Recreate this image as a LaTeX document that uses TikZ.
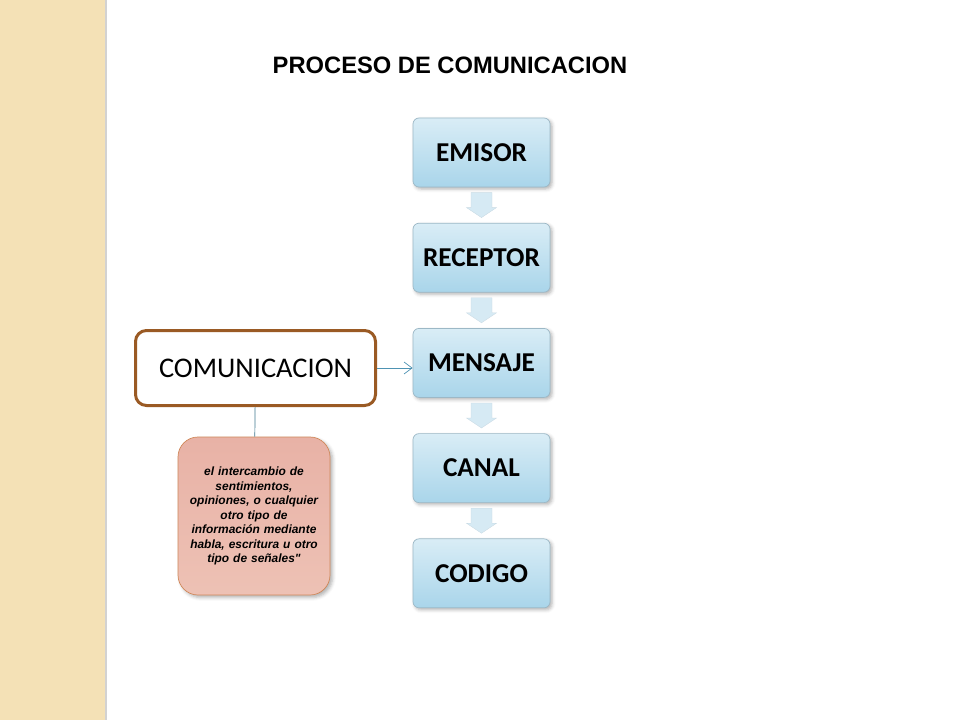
\documentclass[tikz,border=0pt]{standalone}
\usepackage{fontspec}
\setmainfont{Carlito}
\newfontfamily\arialfont{Liberation Sans}
\usetikzlibrary{positioning,calc,shadows.blur,arrows.meta}
\definecolor{sidebeige}{HTML}{F4E1B6}
\definecolor{boxblue}{HTML}{C9E5F2}
\definecolor{boxbluedark}{HTML}{A9D5EA}
\definecolor{boxline}{HTML}{9CB8C6}
\definecolor{arrowblue}{HTML}{D6EAF4}
\definecolor{termbrown}{HTML}{9A5A24}
\definecolor{notepink}{HTML}{E8B2A6}
\definecolor{notepinklight}{HTML}{F0C8BB}
\definecolor{noteline}{HTML}{D0885A}
\definecolor{linkblue}{HTML}{4E93B3}
\tikzset{
    step box/.style={
        draw=boxline,thin,rounded corners=1.2mm,
        top color=boxblue!70,bottom color=boxbluedark,
        minimum width=27.4mm,minimum height=13.8mm,
        blur shadow={shadow xshift=.4mm,shadow yshift=-.4mm,shadow blur steps=4,shadow opacity=30},
        font=\fontsize{15.5}{18}\selectfont\bfseries
    },
    flow arrow/.style={fill=arrowblue,draw=arrowblue!85!gray,very thin},
    term box/.style={
        draw=termbrown,line width=.6mm,rounded corners=2.2mm,
        fill=white,minimum width=48mm,minimum height=15mm,
        font=\fontsize{16.2}{19}\selectfont
    },
    note box/.style={
        draw=noteline,thin,rounded corners=4mm,
        top color=notepink,bottom color=notepinklight!70!notepink,
        minimum width=30.4mm,minimum height=31.6mm,
        text width=27mm,align=center,
        blur shadow={shadow xshift=.5mm,shadow yshift=-.5mm,shadow blur steps=4,shadow opacity=30},
        font=\arialfont\fontsize{6.8}{8.25}\selectfont\bfseries\itshape
    },
    >={Straight Barb[length=1.6mm,width=2.4mm]}
}
\begin{document}
\begin{tikzpicture}[x=0.2mm,y=-0.2mm]
\useasboundingbox (0,0) rectangle (960,720);
% side stripe
\fill[sidebeige] (0,0) rectangle (105,720);
\fill[gray!35] (105,0) rectangle (107,720);
\node[font=\arialfont\fontsize{13.5}{15}\selectfont\bfseries] (title) at (450,65) {PROCESO DE COMUNICACION};
% steps
\node[step box] (emisor) at (481.5,152.5) {EMISOR};
\node[step box,below=7.1mm of emisor] (receptor) {RECEPTOR};
\node[step box,below=7.1mm of receptor] (mensaje) {MENSAJE};
\node[step box,below=7.1mm of mensaje] (canal) {CANAL};
\node[step box,below=7.1mm of canal] (codigo) {CODIGO};
\foreach \a/\b in {emisor/receptor,receptor/mensaje,mensaje/canal,canal/codigo}{
    \path (\a.south) -- (\b.north) coordinate[midway] (mid_\a);
    \draw[flow arrow] ($(mid_\a)+(-10.5,-12.5)$) -- ($(mid_\a)+(10.5,-12.5)$)
        -- ($(mid_\a)+(10.5,2.5)$) -- ($(mid_\a)+(15,2.5)$) -- ($(mid_\a)+(0,12.5)$)
        -- ($(mid_\a)+(-15,2.5)$) -- ($(mid_\a)+(-10.5,2.5)$) -- cycle;
}
% concept
\node[term box] (comunicacion) at (255.5,368) {COMUNICACION};
\node[note box] (definicion) at (254,516) {el intercambio de\\ sentimientos,\\ opiniones, o cualquier\\ otro tipo de\\ información mediante\\ habla, escritura u otro\\ tipo de señales"};
\draw[linkblue,thin,->] (comunicacion.east) -- (comunicacion.east -| mensaje.west);
\draw[linkblue!80!black,thin] (comunicacion) -- (definicion);
\end{tikzpicture}
\end{document}
